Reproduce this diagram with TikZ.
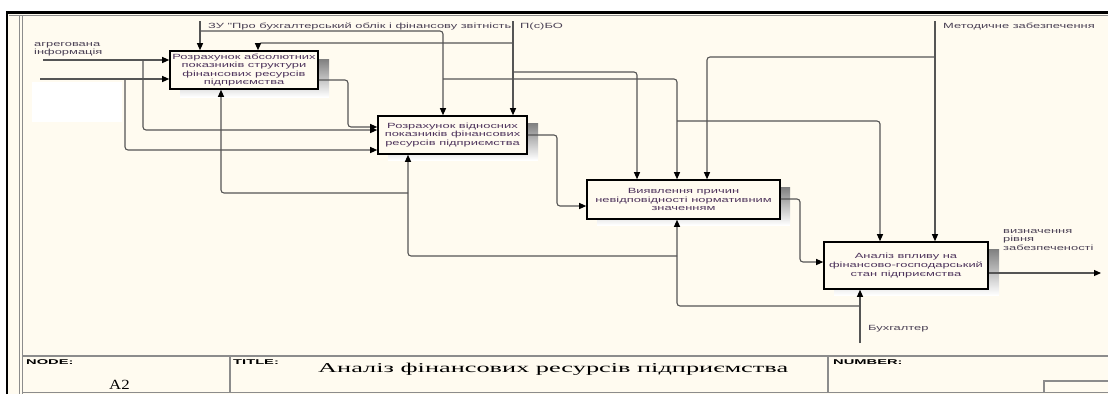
\documentclass[tikz,border=0pt]{standalone}
\usepackage{fontspec}
\usetikzlibrary{arrows.meta,calc}
\setmainfont{Liberation Sans}
\newfontfamily\boxfont[FakeStretch=1.72]{Liberation Sans}
\newfontfamily\tagfont[FakeStretch=2.1]{Liberation Sans}
\newfontfamily\ttlfont[FakeStretch=1.95]{Liberation Serif}
\newfontfamily\nodefont[FakeStretch=1.2]{Liberation Serif}
\definecolor{paper}{RGB}{255,251,240}
\definecolor{wire}{RGB}{85,85,85}
\definecolor{ink}{RGB}{78,52,92}
\definecolor{labink}{RGB}{75,65,85}
\definecolor{shade}{RGB}{170,170,170}
\definecolor{frame}{RGB}{140,140,140}

\tikzset{
  actbox/.style={draw=black, line width=1.6pt, fill=paper, inner sep=1pt,
    align=center, text=ink, font=\boxfont\fontsize{7.5}{8.6}\selectfont},
  flow/.style={draw=wire, line width=1.1pt, rounded corners=3pt,
    -{Triangle[length=7pt,width=6pt,color=black]}},
  lab/.style={text=labink, inner sep=0pt, align=left,
    font=\boxfont\fontsize{7.5}{8.6}\selectfont},
  tag/.style={inner sep=0pt, anchor=base west, font=\tagfont\bfseries\fontsize{7}{7}\selectfont},
  rule/.style={draw=frame, line width=1.6pt}
}

\begin{document}
\begin{tikzpicture}[x=1pt,y=-1pt]
\useasboundingbox (0,0) rectangle (1108,394);
% sheet and outer frame
\fill[white] (0,0) rectangle (1108,394);
\fill[paper] (7,13) rectangle (1108,394);
\draw[black, line width=2.2pt] (7,394) -- (7,12.5) -- (1108,12.5);
\draw[frame, line width=0.8pt] (9,15.5) -- (1108,15.5);
\draw[frame, line width=1.2pt] (19.5,15.5) -- (19.5,394);
\draw[frame, line width=0.8pt] (22,15.5) -- (22,394);

% blank patch on the left
\fill[white] (32,82) rectangle (122,122);

% shadows of the activity boxes
\fill[shade] (180,59) rectangle (329,97);
\fill[shade] (388,123) rectangle (538,160);
\fill[shade] (597,187) rectangle (790,225);
\fill[shade] (834,249) rectangle (999,295);

% activity boxes
\node[actbox, minimum width=148pt, minimum height=38pt] (b1) at (244,70)
  {Розрахунок абсолютних\\показників структури\\фінансових ресурсів\\підприємства};
\node[actbox, minimum width=149pt, minimum height=38pt] (b2) at (452.5,135)
  {Розрахунок відносних\\показників фінансових\\ресурсів підприємства};
\node[actbox, minimum width=193pt, minimum height=39pt] (b3) at (683.5,199.5)
  {Виявлення причин\\невідповідності нормативним\\значенням};
\node[actbox, minimum width=164pt, minimum height=47pt] (b4) at (906,265.5)
  {Аналіз впливу на\\фінансово-господарський\\стан підприємства};

% boundary points and junctions
\coordinate (zuTop) at (200,21);
\coordinate (zuA) at (200,31);  \coordinate (zuB) at (443,31);
\coordinate (zuC) at (443,79);  \coordinate (zuD) at (677,79);
\coordinate (zuE) at (677,121); \coordinate (zuF) at (880,121);
\coordinate (pboTop) at (513,21);
\coordinate (pboA) at (513,43); \coordinate (pboB) at (258,43);
\coordinate (pboC) at (513,72); \coordinate (pboD) at (637,72);
\coordinate (metTop) at (935,21);
\coordinate (metA) at (935,57); \coordinate (metB) at (707,57);
\coordinate (agrIn) at (43,60);
\coordinate (agrA) at (143,60); \coordinate (agrB) at (143,130);
\coordinate (inTwo) at (40,79);
\coordinate (inA) at (125,79);  \coordinate (inB) at (125,150);
\coordinate (oA) at (348,80);   \coordinate (oB) at (348,127);
\coordinate (oC) at (557,135);  \coordinate (oD) at (557,206);
\coordinate (oE) at (800,199);  \coordinate (oF) at (800,262);
\coordinate (outEnd) at (1101,273);
\coordinate (buhBot) at (860,343);
\coordinate (mA) at (860,306);  \coordinate (mB) at (677,306);
\coordinate (mC) at (677,256);  \coordinate (mD) at (408,256);
\coordinate (mE) at (408,193);  \coordinate (mF) at (221,193);

% controls
\draw[flow] (zuTop) -- (zuTop |- b1.north);
\draw[flow] (zuA) -- (zuB) -- (zuB |- b2.north);
\draw[flow] (zuC) -- (zuD) -- (zuD |- b3.north);
\draw[flow] (zuE) -- (zuF) -- (zuF |- b4.north);
\draw[flow] (pboTop) -- (pboTop |- b2.north);
\draw[flow] (pboA) -- (pboB) -- (pboB |- b1.north);
\draw[flow] (pboC) -- (pboD) -- (pboD |- b3.north);
\draw[flow] (metTop) -- (metTop |- b4.north);
\draw[flow] (metA) -- (metB) -- (metB |- b3.north);

% inputs
\draw[flow] (agrIn) -- (agrIn -| b1.west);
\draw[flow] (agrA) -- (agrB) -- (agrB -| b2.west);
\draw[flow] (inTwo) -- (inTwo -| b1.west);
\draw[flow] (inA) -- (inB) -- (inB -| b2.west);

% outputs
\draw[flow] (oA -| b1.east) -- (oA) -- (oB) -- (oB -| b2.west);
\draw[flow] (oC -| b2.east) -- (oC) -- (oD) -- (oD -| b3.west);
\draw[flow] (oE -| b3.east) -- (oE) -- (oF) -- (oF -| b4.west);
\draw[flow] (outEnd -| b4.east) -- (outEnd);

% mechanisms
\draw[flow] (buhBot) -- (buhBot |- b4.south);
\draw[flow] (mA) -- (mB) -- (mB |- b3.south);
\draw[flow] (mC) -- (mD) -- (mD |- b2.south);
\draw[flow] (mE) -- (mF) -- (mF |- b1.south);

% arrow labels
\node[lab, anchor=base west] (lzu) at (208,28.5)
  {ЗУ "Про бухгалтерський облік і фінансову звітність};
\node[lab, anchor=base west] (lpbo) at (520,28.5) {П(с)БО};
\node[lab, anchor=base west] (lmet) at (943,28.5) {Методичне забезпечення};
\node[lab, anchor=north west] (lagr) at (34,42) {агрегована\\інформація};
\node[lab, anchor=north west] (lres) at (1003,229) {визначення\\рівня\\забезпеченості};
\node[lab, anchor=base west] (lbuh) at (868,330) {Бухгалтер};

% title block
\draw[rule] (22,356) -- (1108,356);
\draw[rule] (22,392.5) -- (1108,392.5);
\draw[rule] (230,356) -- (230,392.5);
\draw[rule] (828,356) -- (828,392.5);
\draw[frame, line width=1.2pt] (1044,392.5) -- (1044,381) -- (1108,381);
\node[tag] (tnode) at (26,364.5) {NODE:};
\node[tag] (ttitle) at (233,364.5) {TITLE:};
\node[tag] (tnum) at (833,364.5) {NUMBER:};
\node[inner sep=0pt, anchor=base west, font=\nodefont\fontsize{14}{14}\selectfont] (nid) at (109,389) {A2};
\node[inner sep=0pt, anchor=base west, font=\ttlfont\fontsize{13.5}{14}\selectfont] (ttl) at (318,372.5)
  {Аналіз фінансових ресурсів підприємства};
\end{tikzpicture}
\end{document}
